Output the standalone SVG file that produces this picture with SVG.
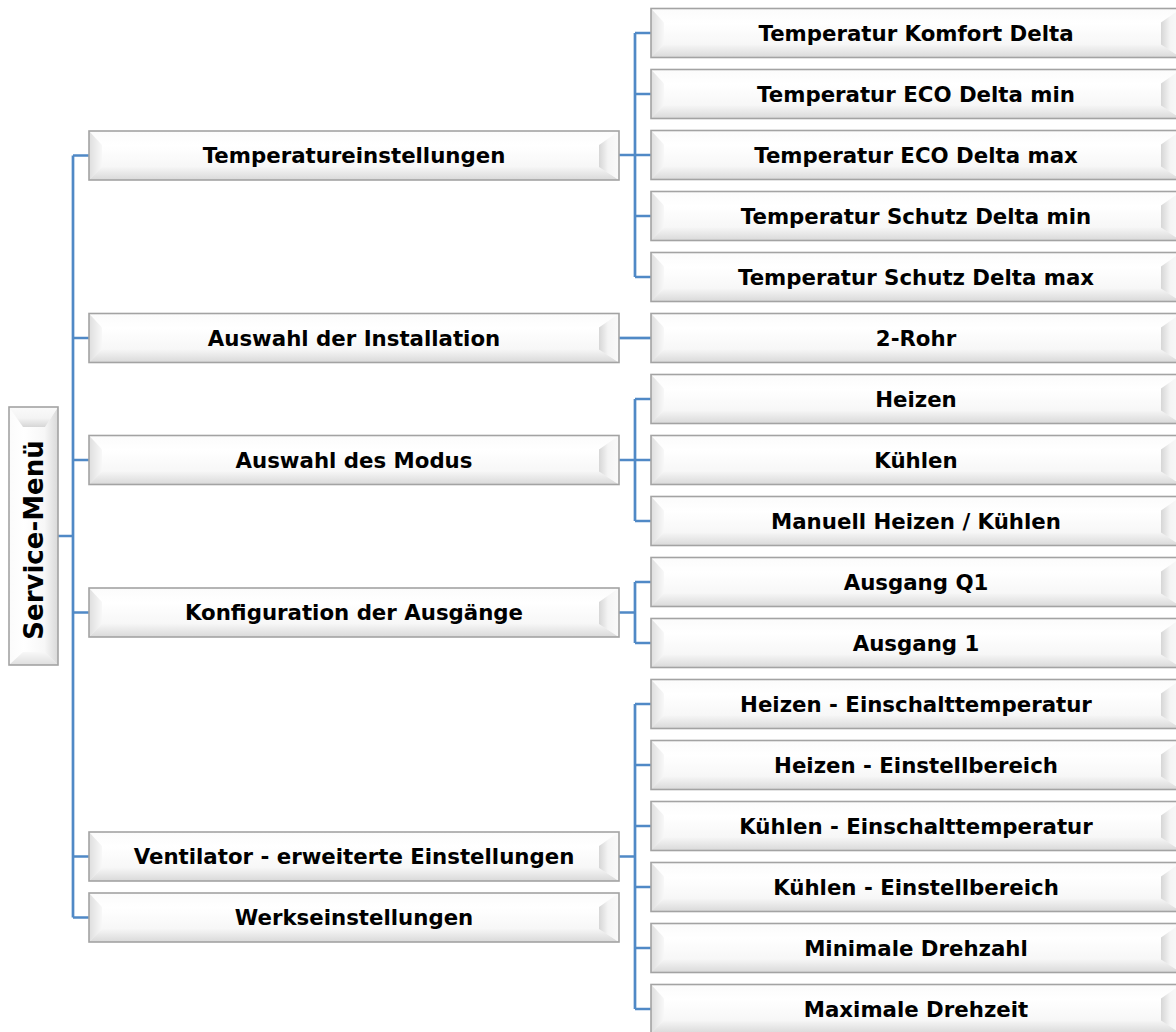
<svg xmlns="http://www.w3.org/2000/svg" xmlns:xlink="http://www.w3.org/1999/xlink" width="1176" height="1032" viewBox="0 0 1176 1032">
<style>
.t{font-family:"DejaVu Sans","Verdana",sans-serif;font-weight:bold;font-size:21.3px;fill:#000;text-anchor:middle}
.root{font-size:26px}
.c{fill:none;stroke:#5089c6;stroke-width:2.7}
</style>
<defs>
<linearGradient id="gFace" x1="0" y1="0" x2="0" y2="1"><stop offset="0" stop-color="#fbfbfb"/><stop offset="0.3" stop-color="#ffffff"/><stop offset="1" stop-color="#f2f2f2"/></linearGradient>
<linearGradient id="gLeft" x1="0" y1="0" x2="1" y2="0"><stop offset="0" stop-color="#dedede"/><stop offset="1" stop-color="#f8f8f8"/></linearGradient>
<linearGradient id="gBottom" x1="0" y1="0" x2="0" y2="1"><stop offset="0" stop-color="#f6f6f6"/><stop offset="1" stop-color="#d9d9d9"/></linearGradient>
<linearGradient id="gRight" x1="0" y1="0" x2="1" y2="0"><stop offset="0" stop-color="#d6d6d6"/><stop offset="0.45" stop-color="#f4f4f4"/><stop offset="1" stop-color="#fafafa"/></linearGradient>
<g id="box">
<rect x="0" y="0" width="530" height="49" fill="url(#gFace)"/>
<polygon points="0,0 13,14 13,36 0,49" fill="url(#gLeft)"/>
<polygon points="0,49 13,36 510,36 530,49" fill="url(#gBottom)"/>
<polygon points="530,0 510,14 510,36 530,49" fill="url(#gRight)"/>
<rect x="0" y="0" width="530" height="49" fill="none" stroke="#a3a3a3" stroke-width="1.6"/>
</g>
<g id="rbox">
<rect x="0" y="0" width="258" height="49" fill="url(#gFace)"/>
<polygon points="0,0 13,14 13,36 0,49" fill="url(#gLeft)"/>
<polygon points="0,49 13,36 238,36 258,49" fill="url(#gBottom)"/>
<polygon points="258,0 238,14 238,36 258,49" fill="url(#gRight)"/>
<rect x="0" y="0" width="258" height="49" fill="none" stroke="#a3a3a3" stroke-width="1.6"/>
</g>
</defs>
<rect width="1176" height="1032" fill="#fff"/>

<g id="connectors">
<path class="c" d="M58,536 H73 M73,155.5 V917.5 M73,155.5 H89 M73,338 H89 M73,460 H89 M73,612.5 H89 M73,856.5 H89 M73,917.5 H89"/>
<path class="c" d="M619,155 H635 M635,33 V277 M635,33 H651 M635,94 H651 M635,155 H651 M635,216 H651 M635,277 H651"/>
<path class="c" d="M619,338 H651"/>
<path class="c" d="M619,460 H635 M635,399 V521 M635,399 H651 M635,460 H651 M635,521 H651"/>
<path class="c" d="M619,612.5 H635 M635,582 V643 M635,582 H651 M635,643 H651"/>
<path class="c" d="M619,856.5 H635 M635,704 V1009 M635,704 H651 M635,765 H651 M635,826 H651 M635,887 H651 M635,948 H651 M635,1009 H651"/>
</g>

<g id="root"><use xlink:href="#rbox" transform="translate(9,665) rotate(-90)"/><text class="t root" transform="translate(43,540) rotate(-90)">Service-Menü</text></g>

<g id="n1"><use xlink:href="#box" x="89" y="131"/><text class="t" x="354" y="163">Temperatureinstellungen</text></g>
<g id="n2"><use xlink:href="#box" x="89" y="313.5"/><text class="t" x="354" y="345.5">Auswahl der Installation</text></g>
<g id="n3"><use xlink:href="#box" x="89" y="435.5"/><text class="t" x="354" y="467.5">Auswahl des Modus</text></g>
<g id="n4"><use xlink:href="#box" x="89" y="588"/><text class="t" x="354" y="620">Konfiguration der Ausgänge</text></g>
<g id="n5"><use xlink:href="#box" x="89" y="832"/><text class="t" x="354" y="864">Ventilator - erweiterte Einstellungen</text></g>
<g id="n6"><use xlink:href="#box" x="89" y="893"/><text class="t" x="354" y="925">Werkseinstellungen</text></g>

<g id="c0"><use xlink:href="#box" x="651" y="8.5"/><text class="t" x="916" y="40.5">Temperatur Komfort Delta</text></g>
<g id="c1"><use xlink:href="#box" x="651" y="69.5"/><text class="t" x="916" y="101.5">Temperatur ECO Delta min</text></g>
<g id="c2"><use xlink:href="#box" x="651" y="130.5"/><text class="t" x="916" y="162.5">Temperatur ECO Delta max</text></g>
<g id="c3"><use xlink:href="#box" x="651" y="191.5"/><text class="t" x="916" y="223.5">Temperatur Schutz Delta min</text></g>
<g id="c4"><use xlink:href="#box" x="651" y="252.5"/><text class="t" x="916" y="284.5">Temperatur Schutz Delta max</text></g>
<g id="c5"><use xlink:href="#box" x="651" y="313.5"/><text class="t" x="916" y="345.5">2-Rohr</text></g>
<g id="c6"><use xlink:href="#box" x="651" y="374.5"/><text class="t" x="916" y="406.5">Heizen</text></g>
<g id="c7"><use xlink:href="#box" x="651" y="435.5"/><text class="t" x="916" y="467.5">Kühlen</text></g>
<g id="c8"><use xlink:href="#box" x="651" y="496.5"/><text class="t" x="916" y="528.5">Manuell Heizen / Kühlen</text></g>
<g id="c9"><use xlink:href="#box" x="651" y="557.5"/><text class="t" x="916" y="589.5">Ausgang Q1</text></g>
<g id="c10"><use xlink:href="#box" x="651" y="618.5"/><text class="t" x="916" y="650.5">Ausgang 1</text></g>
<g id="c11"><use xlink:href="#box" x="651" y="679.5"/><text class="t" x="916" y="711.5">Heizen - Einschalttemperatur</text></g>
<g id="c12"><use xlink:href="#box" x="651" y="740.5"/><text class="t" x="916" y="772.5">Heizen - Einstellbereich</text></g>
<g id="c13"><use xlink:href="#box" x="651" y="801.5"/><text class="t" x="916" y="833.5">Kühlen - Einschalttemperatur</text></g>
<g id="c14"><use xlink:href="#box" x="651" y="862.5"/><text class="t" x="916" y="894.5">Kühlen - Einstellbereich</text></g>
<g id="c15"><use xlink:href="#box" x="651" y="923.5"/><text class="t" x="916" y="955.5">Minimale Drehzahl</text></g>
<g id="c16"><use xlink:href="#box" x="651" y="984.5"/><text class="t" x="916" y="1016.5">Maximale Drehzeit</text></g>
</svg>
